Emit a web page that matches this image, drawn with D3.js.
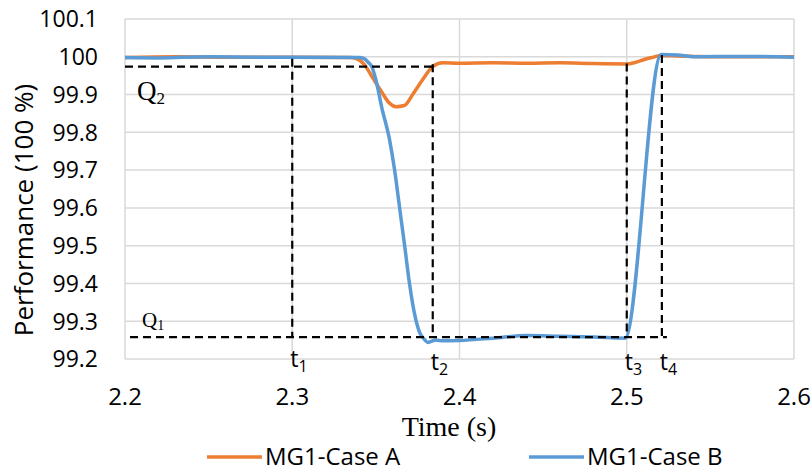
<!DOCTYPE html>
<html>
<head>
<meta charset="utf-8">
<script src="https://d3js.org/d3.v7.min.js"></script>
<style>
  body { margin:0; background:#fff; }
  text { font-family:"Open Sans", sans-serif; fill:#000; }
  .serif { font-family:"Liberation Serif", "Times New Roman", serif; }
</style>
</head>
<body>
<script>
// x ticks / y ticks
var xTicks = [2.2, 2.3, 2.4, 2.5, 2.6];
var yTicks = [99.2, 99.3, 99.4, 99.5, 99.6, 99.7, 99.8, 99.9, 100, 100.1];
var seriesNames = ["MG1-Case A", "MG1-Case B"];

// MG1-Case A (time, performance)
var caseA = [
  [2.20, 99.998], [2.23, 100.0], [2.26, 99.999], [2.30, 99.999], [2.335, 99.998],
  [2.338, 99.996], [2.343, 99.98], [2.348, 99.945], [2.353, 99.91], [2.358, 99.878],
  [2.362, 99.868], [2.367, 99.871], [2.372, 99.9], [2.378, 99.94], [2.384, 99.974],
  [2.39, 99.984], [2.40, 99.983], [2.42, 99.984], [2.44, 99.983], [2.46, 99.984],
  [2.48, 99.982], [2.50, 99.981], [2.505, 99.985], [2.51, 99.992], [2.515, 99.998],
  [2.52, 100.003], [2.53, 100.002], [2.55, 100.0], [2.58, 100.0], [2.60, 100.0]
];

// MG1-Case B
var caseB = [
  [2.20, 99.998], [2.22, 99.997], [2.25, 100.0], [2.28, 99.999], [2.30, 99.999],
  [2.34, 99.998], [2.343, 99.995], [2.3455, 99.985], [2.3475, 99.974], [2.3505, 99.93],
  [2.3534, 99.868], [2.3582, 99.78], [2.3612, 99.70], [2.3642, 99.60], [2.3672, 99.50],
  [2.3701, 99.40], [2.3731, 99.32], [2.376, 99.272], [2.379, 99.252], [2.381, 99.244],
  [2.386, 99.25], [2.39, 99.248], [2.40, 99.249], [2.42, 99.255], [2.44, 99.262],
  [2.46, 99.26], [2.48, 99.258], [2.499, 99.255], [2.5206, 100.006], [2.53, 100.005],
  [2.54, 100.0], [2.57, 100.001], [2.60, 99.999]
];

// dashed guide lines: [t0, v0, t1, v1]
var guides = [
  [2.2, 99.974, 2.384, 99.974],     // Q2
  [2.203, 99.258, 2.524, 99.258],   // Q1
  [2.3, 99.995, 2.3, 99.258],       // t1
  [2.384, 99.98, 2.384, 99.258],    // t2
  [2.5, 99.982, 2.5, 99.258],       // t3
  [2.521, 100.005, 2.521, 99.258]   // t4
];
var tLabels = [
  {t: 2.3, sub: "1", dy: 0},
  {t: 2.384, sub: "2", dy: 3},
  {t: 2.5, sub: "3", dy: 3},
  {t: 2.521, sub: "4", dy: 3}
];

var colors = ["#ED7D31", "#5B9BD5"];

var svg = d3.select("body").append("svg")
  .attr("width", 812)
  .attr("height", 472);

var x = d3.scaleLinear().domain([2.2, 2.6]).range([125, 794]);
var y = d3.scaleLinear().domain([99.2, 100.1]).range([359, 19]);

// grid
svg.append("g").selectAll("line").data(yTicks).join("line")
  .attr("x1", x(2.2)).attr("x2", x(2.6))
  .attr("y1", d => y(d)).attr("y2", d => y(d))
  .attr("stroke", "#d9d9d9").attr("stroke-width", 1.5);
svg.append("g").selectAll("line").data(xTicks).join("line")
  .attr("x1", d => x(d)).attr("x2", d => x(d))
  .attr("y1", y(99.2)).attr("y2", y(100.1))
  .attr("stroke", "#d9d9d9").attr("stroke-width", 1.5);

// tick labels
svg.append("g").selectAll("text").data(yTicks).join("text")
  .attr("x", 98).attr("y", d => y(d)).attr("dy", "0.36em")
  .attr("text-anchor", "end").style("font-size", "23px")
  .text(d => d3.format("")(+d.toFixed(1)));
svg.append("g").selectAll("text").data(xTicks).join("text")
  .attr("x", d => x(d)).attr("y", 405)
  .attr("text-anchor", "middle").style("font-size", "24px")
  .text(d => d.toFixed(1));

// axis titles
svg.append("text")
  .attr("transform", "translate(33,210) rotate(-90)")
  .attr("text-anchor", "middle").style("font-size", "26px")
  .text("Performance (100 %)");
svg.append("text").attr("class", "serif")
  .attr("x", 449).attr("y", 436)
  .attr("text-anchor", "middle").style("font-size", "28px")
  .text("Time (s)");

// series
var line = d3.line().x(d => x(d[0])).y(d => y(d[1])).curve(d3.curveMonotoneX);
[caseA, caseB].forEach(function(s, i) {
  svg.append("path").datum(s)
    .attr("d", line)
    .attr("fill", "none")
    .attr("stroke", colors[i])
    .attr("stroke-width", 3.5)
    .attr("stroke-linejoin", "round");
});

// dashed guides
svg.append("g").selectAll("line").data(guides).join("line")
  .attr("x1", d => x(d[0])).attr("y1", d => y(d[1]))
  .attr("x2", d => x(d[2])).attr("y2", d => y(d[3]))
  .attr("stroke", "#000").attr("stroke-width", 2.2)
  .attr("stroke-dasharray", "8,5");

// Q labels
var q2 = svg.append("text").attr("class", "serif")
  .attr("x", 137).attr("y", 100).style("font-size", "27px").text("Q");
q2.append("tspan").attr("dy", 4).style("font-size", "17px").text("2");
var q1 = svg.append("text").attr("class", "serif")
  .attr("x", 142).attr("y", 327).style("font-size", "21px").text("Q");
q1.append("tspan").attr("dy", 3).style("font-size", "14px").text("1");

// t labels
tLabels.forEach(function(d) {
  var t = svg.append("text")
    .attr("x", x(d.t) - 2).attr("y", 367 + d.dy)
    .style("font-size", "23px").text("t");
  t.append("tspan").attr("dy", 5).style("font-size", "16px").text(d.sub);
});

// legend
var legX = [207, 529];
seriesNames.forEach(function(n, i) {
  svg.append("line")
    .attr("x1", legX[i]).attr("x2", legX[i] + 55)
    .attr("y1", 457).attr("y2", 457)
    .attr("stroke", colors[i]).attr("stroke-width", 3.5);
  svg.append("text")
    .attr("x", legX[i] + 58).attr("y", 465)
    .style("font-size", "24px").text(n);
});
</script>
</body>
</html>
